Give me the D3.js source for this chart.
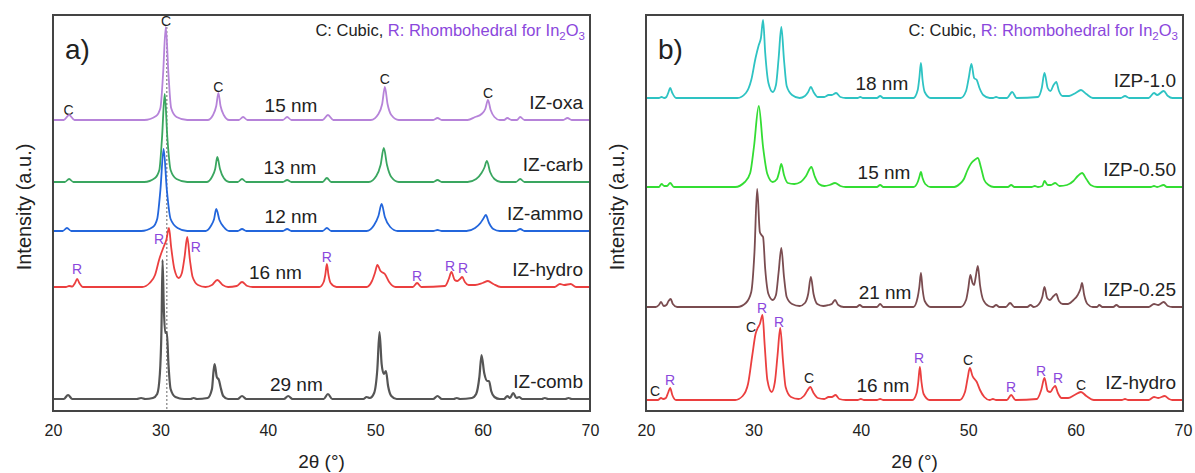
<!DOCTYPE html>
<html>
<head>
<meta charset="utf-8">
<script src="https://cdn.jsdelivr.net/npm/d3@7"></script>
<style>
  body { margin: 0; background: #fff; }
  svg text { font-family: "Liberation Sans", Arial, sans-serif; fill: #222; }
</style>
</head>
<body>
<svg id="chart" width="1195" height="473"></svg>
<script>
// ---- data (2theta in degrees, intensity in a.u. relative to each pattern's baseline) ----
var xTicks = [20, 30, 40, 50, 60, 70];

// panel a
var namesA = ['IZ-oxa', 'IZ-carb', 'IZ-ammo', 'IZ-hydro', 'IZ-comb'];
var sizesA = ['15 nm', '13 nm', '12 nm', '16 nm', '29 nm'];
var offsetsA = [291, 229, 180, 124, 12];
var colorsA = ['#b683d9', '#3aa660', '#2366dc', '#eb3f3f', '#555555'];

var izOxa = [[20,0],[21.0,0],[21.5,5],[22.0,0],
  [28.5,0],[29.6,4],[30.0,12],[30.25,46],[30.5,93],[30.75,46],[31.0,12],[31.5,3],[32.5,0],
  [34.4,0],[34.9,5],[35.2,14],[35.4,27],[35.6,14],[35.9,5],[36.4,0],
  [37.3,0],[37.7,3],[38.1,0],[41.4,0],[41.8,3],[42.2,0],[45.1,0],[45.6,5],[46.1,0],
  [49.6,0],[50.3,6],[50.65,16],[50.9,33],[51.15,16],[51.5,5],[52.2,0],
  [55.4,0],[55.8,2],[56.2,0],
  [58.6,0],[59.3,3],[59.9,6],[60.25,11],[60.5,20],[60.75,10],[61.1,3],[61.6,0],
  [62.0,0],[62.3,2],[62.7,0],[63.2,0],[63.5,3],[63.9,0],[67.5,0],[67.9,2],[68.3,0],[70,0]];

var izCarb = [[20,0],[21.1,0],[21.5,3],[21.9,0],
  [28.5,0],[29.5,4],[29.9,12],[30.15,44],[30.4,88],[30.65,44],[30.95,12],[31.5,3],[32.5,0],
  [34.3,0],[34.8,5],[35.1,13],[35.3,25],[35.55,13],[35.9,4],[36.4,0],
  [37.2,0],[37.6,3],[38.0,0],[41.4,0],[41.8,2],[42.2,0],[45.1,0],[45.5,4],[45.9,0],
  [49.4,0],[50.1,6],[50.5,17],[50.8,34],[51.1,17],[51.5,5],[52.2,0],
  [55.4,0],[55.8,2],[56.2,0],
  [58.6,0],[59.4,3],[59.9,9],[60.15,14],[60.4,21],[60.7,10],[61.1,3],[61.7,0],
  [63.1,0],[63.5,3],[63.9,0],[70,0]];

var izAmmo = [[20,0],[20.9,0],[21.3,3],[21.7,0],
  [28.2,0],[29.3,4],[29.7,12],[30.0,41],[30.3,82],[30.6,41],[30.95,12],[31.6,3],[32.5,0],
  [34.2,0],[34.7,5],[35.0,12],[35.2,22],[35.5,11],[35.9,4],[36.4,0],
  [37.2,0],[37.6,2],[38.0,0],[41.4,0],[41.8,2],[42.2,0],[45.1,0],[45.5,3],[45.9,0],
  [49.2,0],[49.9,6],[50.3,15],[50.6,27],[50.9,14],[51.4,4],[52.1,0],
  [55.4,0],[55.8,1],[56.2,0],
  [58.5,0],[59.3,3],[59.8,8],[60.05,12],[60.3,16],[60.6,8],[61.0,2],[61.6,0],
  [63.1,0],[63.5,2],[63.9,0],[70,0]];

var izHydroA = [[20,0],[21.2,0],[21.5,1],[21.8,0.5],[22.05,4],[22.25,8],[22.45,4],[22.8,0],
  [28.3,0],[29.0,4],[29.5,12],[29.9,28],[30.3,40],[30.55,47],[30.8,59],[31.0,40],[31.3,18],[31.7,9],
  [32.0,14],[32.25,30],[32.5,50],[32.75,27],[33.0,10],[33.5,2],[34.2,0],
  [34.8,2],[35.3,7],[35.8,2],[36.3,0],[37.1,1],[37.6,5],[38.1,1],[38.6,0],
  [44.8,0],[45.2,5],[45.35,12],[45.5,23],[45.65,12],[45.85,4],[46.4,0],
  [49.2,0],[49.7,6],[50.0,15],[50.2,22],[50.5,16],[50.9,13],[51.3,5],[51.9,0],
  [53.5,0],[53.9,4],[54.3,0],
  [56.5,1],[56.85,8],[57.1,15],[57.4,7],[57.65,6],[57.9,8],[58.1,10],[58.35,5],[58.7,2],
  [59.3,2],[60.0,4],[60.5,6],[61.0,3],[61.7,0],
  [66.7,0],[67.2,3],[67.6,2],[68.2,3],[68.7,0],[70,0]];

var izComb = [[20,0],[21.0,0],[21.4,4],[21.8,0],[27.8,0],[28.2,1],[28.6,0],
  [29.3,1],[29.7,5],[29.95,25],[30.1,70],[30.2,139],[30.32,90],[30.45,66],[30.6,67],[30.75,35],[30.95,10],[31.4,2],[32.2,0],
  [32.8,0],[33.1,1],[33.4,0],
  [34.4,1],[34.8,10],[34.95,28],[35.05,35],[35.25,22],[35.45,19],[35.6,12],[35.85,3],[36.3,0],
  [37.2,0],[37.6,3],[38.0,0],[41.5,0],[41.9,3],[42.3,0],[45.2,0],[45.6,5],[46.0,0],
  [48.9,0],[49.2,2],[49.5,1],[49.9,6],[50.2,30],[50.4,67],[50.6,35],[50.8,25],[51.0,28],[51.2,13],[51.5,3],[52.0,0],
  [55.4,0],[55.8,3],[56.2,0],[57.3,0],[57.6,1],[57.9,0],
  [59.0,1],[59.4,5],[59.7,22],[59.9,44],[60.15,26],[60.45,18],[60.6,18],[60.8,8],[61.1,2],[61.6,0],
  [62.0,0],[62.3,3],[62.55,1],[62.85,6],[63.15,1],[63.4,2],[63.7,0],[65.5,0],[65.8,1],[66.1,0],
  [67.7,0],[68.0,1],[68.3,0],[70,0]];

// panel b
var namesB = ['IZP-1.0', 'IZP-0.50', 'IZP-0.25', 'IZ-hydro'];
var sizesB = ['18 nm', '15 nm', '21 nm', '16 nm'];
var offsetsB = [313, 224, 104, 11];
var colorsB = ['#2ec3c3', '#33dd33', '#7a4c50', '#eb3f3f'];

var izp10 = [[20,0],[21.2,0],[21.45,1],[21.7,0],[21.9,1],[22.1,6],[22.25,10],[22.45,5],[22.8,0],
  [28.5,0],[29.3,5],[29.8,18],[30.2,40],[30.5,53],[30.7,60],[30.9,78],[31.1,45],[31.4,15],[31.8,6],
  [32.1,13],[32.35,40],[32.6,71],[32.85,38],[33.1,12],[33.6,3],[34.3,0],
  [34.8,2],[35.1,6],[35.35,11],[35.6,6],[36.0,1],[36.6,1],[37.0,3],[37.3,3],[37.7,5],[38.1,1],[38.6,0],
  [39.7,0],[39.95,1],[40.2,0],[41.5,0],[41.8,2],[42.1,0],
  [44.9,0],[45.3,8],[45.45,20],[45.6,35],[45.75,18],[45.95,6],[46.5,0],
  [49.3,0],[49.8,7],[50.05,20],[50.3,34],[50.55,20],[50.8,18],[51.05,10],[51.4,3],[52.0,0],
  [52.3,0],[52.6,1],[52.9,0],[53.6,0],[54.1,6],[54.5,0],
  [56.5,1],[56.85,10],[57.1,25],[57.4,10],[57.65,7],[57.95,13],[58.2,16],[58.45,7],[58.8,2],
  [59.4,2],[60.0,5],[60.5,8],[61.0,4],[61.6,0],
  [64.2,0],[64.6,2],[65.0,0],[66.8,0],[67.3,5],[67.6,3],[68.2,7],[68.6,2],[69.0,0],[70,0]];

var izp050 = [[20,0],[21.2,0],[21.45,3],[21.7,1],[21.95,1],[22.25,4],[22.6,0],
  [28.3,0],[29.2,5],[29.7,14],[30.05,40],[30.5,81],[30.9,40],[31.3,13],[31.8,5],
  [32.2,8],[32.4,15],[32.6,23],[32.85,12],[33.2,4],[33.8,3],
  [34.4,5],[34.9,11],[35.4,20],[35.7,11],[36.1,3],[36.6,1],[37.1,2],[37.6,4],[38.1,1],[38.6,0],
  [41.5,0],[41.8,2],[42.1,0],
  [44.9,0],[45.3,5],[45.45,10],[45.6,15],[45.75,9],[46.0,3],[46.5,0],
  [48.7,0],[49.2,3],[49.6,8],[49.9,16],[50.3,24],[50.6,27],[50.9,29],[51.2,19],[51.5,7],[51.9,2],[52.4,0],
  [53.7,0],[54.0,2],[54.3,0],[55.9,0],[56.2,1],[56.5,0],
  [56.9,1],[57.1,6],[57.4,2],[57.7,2],[58.1,4],[58.5,1],
  [59.2,2],[59.8,6],[60.2,11],[60.6,14],[61.0,8],[61.4,2],[62.0,0],
  [67.0,0],[67.3,1],[67.6,0],[68.2,2],[68.5,0],[70,0]];

var izp025 = [[20,0],[20.9,0],[21.2,2],[21.4,5],[21.65,1],[21.9,2],[22.1,6],[22.3,8],[22.5,3],[22.9,0],
  [28.5,0],[29.3,4],[29.8,15],[30.1,55],[30.35,118],[30.6,75],[30.75,72],[30.9,70],[31.1,38],[31.4,13],[31.8,7],
  [32.1,12],[32.35,35],[32.6,59],[32.85,30],[33.1,10],[33.6,3],[34.3,1],
  [34.8,4],[35.1,13],[35.35,30],[35.6,13],[35.95,3],[36.5,1],[37.0,2],[37.3,3],[37.6,7],[37.9,2],[38.4,0],
  [39.6,0],[39.9,2],[40.2,0],[41.5,0],[41.8,3],[42.1,0],
  [44.9,0],[45.3,10],[45.45,20],[45.6,34],[45.75,18],[45.95,6],[46.5,0],
  [49.3,0],[49.8,7],[50.0,18],[50.2,32],[50.4,24],[50.55,22],[50.7,30],[50.9,41],[51.1,22],[51.4,7],[51.9,1],
  [52.3,0],[52.6,2],[52.9,0],[53.5,0],[53.9,4],[54.3,0],[55.5,0],[55.8,2],[56.1,0],[56.4,1],
  [56.9,10],[57.1,20],[57.35,9],[57.6,7],[57.95,11],[58.2,13],[58.45,6],[58.8,3],
  [59.3,3],[59.8,7],[60.2,12],[60.45,18],[60.6,24],[60.8,12],[61.1,3],[61.6,0],
  [62.0,0],[62.2,2],[62.5,0],[63.5,0],[63.8,2],[64.1,0],
  [66.8,0],[67.3,3],[67.7,2],[68.2,5],[68.6,1],[69.0,0],[70,0]];

var izHydroB = [[20,0],[21.1,0],[21.4,2],[21.6,1],[21.85,2],[22.05,7],[22.25,12],[22.45,5],[22.8,0],
  [28.3,0],[29.0,4],[29.5,16],[29.9,45],[30.2,66],[30.4,72],[30.6,76],[30.85,85],[31.05,55],[31.3,20],[31.7,8],
  [32.0,18],[32.25,45],[32.5,72],[32.75,40],[33.0,13],[33.5,3],[34.2,1],
  [34.7,4],[35.0,9],[35.3,13],[35.6,7],[36.0,2],[36.6,1],[37.0,3],[37.3,3],[37.65,5],[38.0,1],[38.6,0],
  [39.7,0],[40.0,1],[40.3,0],[41.5,0],[41.8,1],[42.1,0],
  [44.8,0],[45.2,7],[45.35,18],[45.5,33],[45.65,18],[45.85,6],[46.4,0],
  [49.2,0],[49.7,8],[49.95,22],[50.15,32],[50.4,24],[50.8,18],[51.1,10],[51.5,3],[52.0,0],[52.3,1],[52.6,0],
  [53.6,0],[54.0,5],[54.4,0],
  [56.4,1],[56.8,10],[57.1,22],[57.4,9],[57.65,8],[57.9,12],[58.1,14],[58.35,7],[58.7,2],
  [59.3,2],[59.9,5],[60.5,8],[61.0,4],[61.7,0],
  [64.3,0],[64.6,1],[64.9,0],[66.8,0],[67.3,3],[67.7,2],[68.3,4],[68.7,1],[69.0,0],[70,0]];

// phase marks: [letter, 2theta, intensity (panel units)]
var marksA = [['C',21.45,301],['C',30.52,390],['C',35.4,324],['C',50.9,332],['C',60.5,318],
  ['R',22.23,142],['R',29.87,172],['R',33.3,164],['R',45.5,154],['R',53.9,135],['R',56.96,145],['R',58.17,143]];
var marksB = [['C',20.84,20],['R',22.23,31],['C',29.78,84],['R',30.8,103],['R',32.38,89],['C',35.18,33],
  ['R',45.42,53],['C',49.98,51],['R',53.99,24],['R',56.78,40],['R',58.36,33],['C',60.5,26]];

var seriesA = [izOxa, izCarb, izAmmo, izHydroA, izComb];
var seriesB = [izp10, izp050, izp025, izHydroB];

// ---- layout ----
var svg = d3.select('#chart');
var plotW = 537, plotH = 396, plotTop = 15;
var purple = '#8b47dc';

function panel(left, tag, names, sizes, offsets, colors, series, marks, sizeAt, dashAt) {
  var g = svg.append('g').attr('transform', 'translate(' + left + ',' + plotTop + ')');
  var x = d3.scaleLinear().domain([20, 70]).range([0, plotW]);
  var y = d3.scaleLinear().domain([0, plotH]).range([plotH, 0]);

  if (dashAt) {
    g.append('line')
      .attr('x1', x(dashAt)).attr('x2', x(dashAt))
      .attr('y1', y(384)).attr('y2', plotH)
      .attr('stroke', '#666').attr('stroke-width', 1)
      .attr('stroke-dasharray', '2,2');
  }

  // phase marks
  g.selectAll('text.mark').data(marks).enter().append('text')
    .attr('class', 'mark')
    .attr('x', function(d){ return x(d[1]); })
    .attr('y', function(d){ return y(d[2]); })
    .attr('dy', '0.35em')
    .attr('text-anchor', 'middle')
    .style('font-size', '14px')
    .style('fill', function(d){ return d[0] == 'R' ? purple : '#222'; })
    .text(function(d){ return d[0]; });

  var line = d3.line().curve(d3.curveMonotoneX);
  series.forEach(function(s, i) {
    var off = offsets[i];
    line.x(function(d){ return x(d[0]); }).y(function(d){ return y(d[1] + off); });
    g.append('path').datum(s)
      .attr('d', line)
      .attr('fill', 'none')
      .attr('stroke', colors[i])
      .attr('stroke-width', i == 4 ? 2.2 : 1.8)
      .attr('stroke-linejoin', 'round');

    g.append('text')
      .attr('x', x(sizeAt[i])).attr('y', y(off + 15)).attr('dy', '0.35em')
      .style('font-size', '19px')
      .text(sizes[i]);
    g.append('text')
      .attr('x', plotW - 7).attr('y', y(off + 18)).attr('dy', '0.35em')
      .attr('text-anchor', 'end')
      .style('font-size', '19px')
      .text(names[i]);
  });

  // legend
  var leg = g.append('text')
    .attr('x', plotW - 5).attr('y', 15).attr('dy', '0.35em')
    .attr('text-anchor', 'end')
    .style('font-size', '16.5px');
  leg.append('tspan').text('C: Cubic, ');
  leg.append('tspan').style('fill', purple).text('R: Rhombohedral for In');
  leg.append('tspan').style('fill', purple).style('font-size', '11.5px').attr('dy', '4').text('2');
  leg.append('tspan').style('fill', purple).attr('dy', '-4').text('O');
  leg.append('tspan').style('fill', purple).style('font-size', '11.5px').attr('dy', '4').text('3');

  g.append('text')
    .attr('x', 12).attr('y', 34).attr('dy', '0.35em')
    .style('font-size', '28px')
    .text(tag);

  // frame
  g.append('rect')
    .attr('width', plotW).attr('height', plotH)
    .attr('fill', 'none').attr('stroke', '#444').attr('stroke-width', 2);

  var xAxis = d3.axisBottom(x).tickValues(xTicks).tickSize(0).tickPadding(14);
  var ax = g.append('g').attr('transform', 'translate(0,' + plotH + ')').call(xAxis);
  ax.select('.domain').remove();
  ax.selectAll('text').style('font-size', '16px').style('fill', '#222')
    .style('font-family', '"Liberation Sans", Arial, sans-serif');

  g.append('text')
    .attr('x', plotW / 2).attr('y', plotH + 57)
    .attr('text-anchor', 'middle')
    .style('font-size', '19px')
    .text('2θ  (°)');

  g.append('text')
    .attr('transform', 'translate(' + (-29) + ',' + (plotH / 2 - 6) + ') rotate(-90)')
    .attr('text-anchor', 'middle')
    .attr('dy', '0.35em')
    .style('font-size', '20px')
    .text('Intensity (a.u.)');
}

panel(53, 'a)', namesA, sizesA, offsetsA, colorsA, seriesA, marksA, [39.7, 39.6, 39.7, 38.25, 40.2], 30.6);
panel(646, 'b)', namesB, sizesB, offsetsB, colorsB, seriesB, marksB, [39.5, 39.7, 39.8, 39.6], null);
</script>
</body>
</html>
